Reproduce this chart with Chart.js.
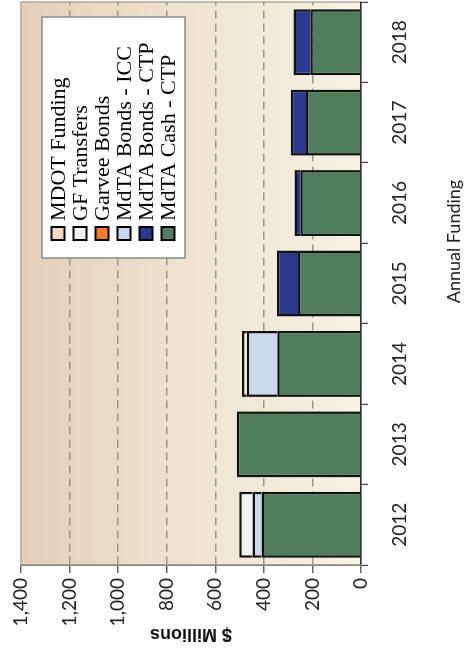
<!DOCTYPE html>
<html>
<head>
<meta charset="utf-8">
<script src="https://cdn.jsdelivr.net/npm/chart.js@4.4.1/dist/chart.umd.min.js"></script>
<style>
  html, body { margin: 0; padding: 0; background: #fff; overflow: hidden; }
  /* the source chart is printed on its side, so the whole chart is turned a quarter left */
  #wrap { position: absolute; left: 0; top: 650px; width: 650px; height: 465px; transform-origin: 0 0; transform: rotate(-90deg); }
</style>
</head>
<body>
<div id="wrap"><canvas id="bar" width="650" height="465"></canvas></div>
<script>
const years = ["2012", "2013", "2014", "2015", "2016", "2017", "2018"];

// $ millions per year
const mdtaCashCtp  = [410, 512, 345, 259, 250, 226, 209];
const mdtaBondsCtp = [0, 0, 0, 87, 24, 63, 69];
const mdtaBondsIcc = [37, 0, 125, 0, 0, 0, 0];
const garveeBonds  = [0, 0, 0, 0, 0, 0, 0];
const gfTransfers  = [54, 0, 20, 0, 0, 0, 0];
const mdotFunding  = [0, 0, 0, 0, 0, 0, 0];

const yTicks = [0, 200, 400, 600, 800, 1000, 1200, 1400];

const plotBg = {
  id: "plotBg",
  beforeDraw(chart) {
    const { ctx, chartArea: a } = chart;
    const g = ctx.createLinearGradient(0, a.top, 0, a.bottom);
    g.addColorStop(0, "#e4d0ba");
    g.addColorStop(0.55, "#efe5d4");
    g.addColorStop(1, "#f6f2e6");
    ctx.save();
    ctx.fillStyle = g;
    ctx.fillRect(a.left, a.top, a.right - a.left, a.bottom - a.top);
    ctx.strokeStyle = "#b5a693";
    ctx.lineWidth = 1.5;
    ctx.strokeRect(a.left, a.top, a.right - a.left, a.bottom - a.top);
    ctx.restore();
  }
};

// boxed legend sitting inside the plot, top right, plus the x title which sits off centre
const boxLegend = {
  id: "boxLegend",
  afterDraw(chart) {
    const ctx = chart.ctx;
    const a = chart.chartArea;
    const items = chart.data.datasets.slice().reverse();
    ctx.save();
    ctx.fillStyle = "#ffffff";
    ctx.fillRect(392, 42, 241, 143);
    ctx.strokeStyle = "#8a8a8a";
    ctx.lineWidth = 1.5;
    ctx.strokeRect(392, 42, 241, 143);
    ctx.font = "22px 'Liberation Serif'";
    ctx.textBaseline = "middle";
    items.forEach((ds, i) => {
      const y = 58 + i * 22;
      ctx.fillStyle = ds.backgroundColor;
      ctx.fillRect(410, y - 6.5, 13, 13);
      ctx.strokeStyle = "#000";
      ctx.lineWidth = 2;
      ctx.strokeRect(410, y - 6.5, 13, 13);
      ctx.fillStyle = "#000";
      ctx.fillText(ds.label, 429, y + 1);
    });

    ctx.font = "18px Lato";
    ctx.fillStyle = "#222";
    ctx.textAlign = "center";
    ctx.fillText("Annual Funding", (a.left + a.right) / 2 + 42, 454);
    ctx.restore();
  }
};

const bar = document.getElementById("bar");
new Chart(bar, {
  type: "bar",
  data: {
    labels: years,
    datasets: [
      { label: "MdTA Cash - CTP", data: mdtaCashCtp, backgroundColor: "#4f7d5d" },
      { label: "MdTA Bonds - CTP", data: mdtaBondsCtp, backgroundColor: "#2c3a8e" },
      { label: "MdTA Bonds - ICC", data: mdtaBondsIcc, backgroundColor: "#c9d9ee" },
      { label: "Garvee Bonds", data: garveeBonds, backgroundColor: "#f27a36" },
      { label: "GF Transfers", data: gfTransfers, backgroundColor: "#f3f3f1" },
      { label: "MDOT Funding", data: mdotFunding, backgroundColor: "#f8d8c2" },
    ],
  },
  options: {
    responsive: false,
    animation: false,
    datasets: {
      bar: {
        borderColor: "#111",
        borderWidth: 2.5,
        categoryPercentage: 1,
        barPercentage: 0.82,
      }
    },
    layout: { padding: { top: 21, right: 2, left: 0, bottom: 0 } },
    plugins: {
      legend: { display: false },
      tooltip: { enabled: false },
    },
    scales: {
      x: {
        stacked: true,
        afterFit: (s) => { s.height = 104; },
        grid: { offset: true, drawOnChartArea: false, drawTicks: true, tickLength: 7, color: "#444", lineWidth: 1.2 },
        border: { color: "#333", width: 1.5 },
        ticks: { color: "#222", padding: 20, font: { family: "Lato", size: 19 } },
      },
      y: {
        stacked: true,
        min: 0,
        max: 1400,
        afterFit: (s) => { s.width = 85; },
        afterBuildTicks: (s) => { s.ticks = yTicks.map((v) => ({ value: v })); },
        grid: {
          color: (c) => (c.tick && (c.tick.value === 0 || c.tick.value === 1400)) ? "rgba(0,0,0,0)" : "#a09484",
          lineWidth: 1.5,
          tickColor: "#666",
          tickLength: 8,
        },
        border: { color: "#888", width: 1.5, dash: [8, 5] },
        ticks: { color: "#222", padding: 5, font: { family: "Lato", size: 19 } },
        title: { display: true, text: "$ Millions", color: "#111", padding: { top: 5 }, font: { family: "Liberation Sans", size: 18, weight: "bold" } },
      },
    },
  },
  plugins: [plotBg, boxLegend],
});
</script>
</body>
</html>
